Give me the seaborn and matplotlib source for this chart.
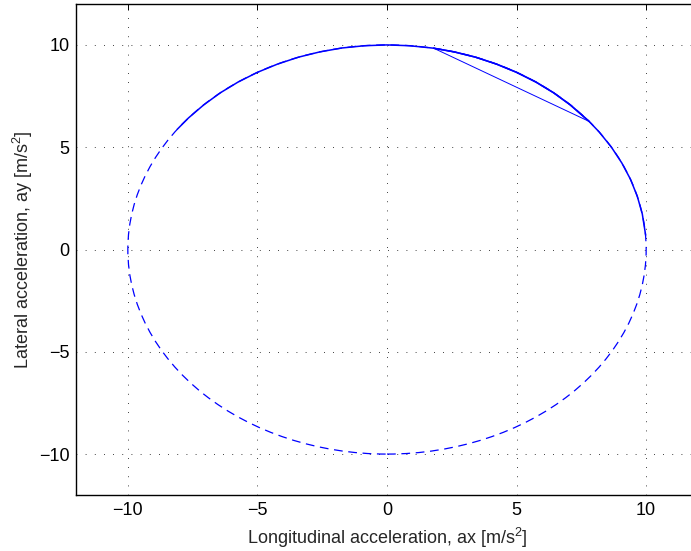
import matplotlib
matplotlib.use("Agg")
import matplotlib.pyplot as plt
from matplotlib.patches import Circle
import seaborn as sns
import pandas as pd

# Friction circle
circle_center = (0.0, 0.0)
circle_radius = 10.0

# Acceleration trajectory
# arc from upper-left to the right, then a jump back, then the arc again down to ay ~ 0.7
arc1_ax = [-8.09, -7.66, -7.07, -6.43, -5.74, -5.0, -4.23, -3.42, -2.59, -1.74,
           -0.87, 0.0, 0.87, 1.8, 2.59, 3.42, 4.23, 5.0, 5.74, 6.43, 7.07, 7.8]
arc1_ay = [5.88, 6.43, 7.07, 7.66, 8.19, 8.66, 9.06, 9.40, 9.66, 9.85,
           9.96, 10.0, 9.96, 9.84, 9.66, 9.40, 9.06, 8.66, 8.19, 7.66, 7.07, 6.26]
jump_ax = [7.8, 1.8]
jump_ay = [6.26, 9.84]
arc2_ax = [1.8, 2.59, 3.42, 4.23, 5.0, 5.74, 6.43, 7.07, 7.8, 8.19, 8.66,
           9.06, 9.40, 9.66, 9.85, 9.98]
arc2_ay = [9.84, 9.66, 9.40, 9.06, 8.66, 8.19, 7.66, 7.07, 6.26, 5.74, 5.0,
           4.23, 3.42, 2.59, 1.74, 0.70]

ticks = [-10, -5, 0, 5, 10]
xlabel = "Longitudinal acceleration, ax [m/s$^2$]"
ylabel = "Lateral acceleration, ay [m/s$^2$]"

sns.set_style("white")
plt.rcParams['font.family'] = ['Liberation Sans', 'DejaVu Sans']
plt.rcParams['mathtext.fontset'] = 'custom'
plt.rcParams['mathtext.rm'] = 'Liberation Sans'

fig = plt.figure(figsize=(6.91, 5.51), dpi=100)
ax = fig.add_axes([76 / 691, 1 - 495 / 551, (698 - 76) / 691, (495 - 4) / 551])

blue = (0, 0, 1)
ax.add_patch(Circle(circle_center, circle_radius, fill=False, edgecolor=blue,
                    linewidth=0.9, linestyle=(0, (7, 4.5))))

for xs, ys, lw in [(arc1_ax, arc1_ay, 1.1), (jump_ax, jump_ay, 0.7), (arc2_ax, arc2_ay, 1.1)]:
    df = pd.DataFrame({"ax": xs, "ay": ys})
    sns.lineplot(data=df, x="ax", y="ay", sort=False, estimator=None,
                 color=blue, linewidth=lw, ax=ax)

ax.set_xlim(-12, 12)
ax.set_ylim(-12, 12)
ax.set_xticks(ticks)
ax.set_yticks(ticks)
ax.set_xticklabels([f"{t}".replace("-", "\u2212") for t in ticks])
ax.set_yticklabels([f"{t}".replace("-", "\u2212") for t in ticks])
ax.tick_params(direction="in", length=4.5, width=0.7, top=True, right=True,
               labelsize=13, colors="black")
ax.tick_params(axis="x", pad=5)
ax.tick_params(axis="y", pad=4.5)
ax.grid(True, color="black", linestyle=(0, (1, 10)), linewidth=0.6)
for s in ax.spines.values():
    s.set_visible(True)
    s.set_color("black")
    s.set_linewidth(1.0)

ax.set_xlabel(xlabel, fontsize=13, labelpad=5)
ax.set_ylabel(ylabel, fontsize=13, labelpad=3)

fig.savefig("out.png", dpi=100)
